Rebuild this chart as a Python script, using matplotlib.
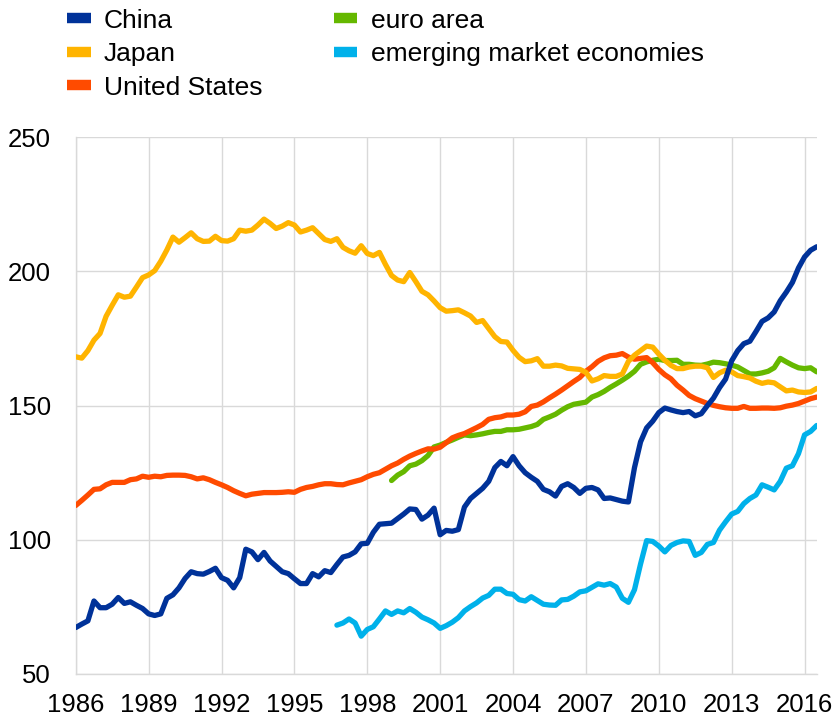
import numpy as np
import matplotlib
matplotlib.use('Agg')
import matplotlib.pyplot as plt
from matplotlib.lines import Line2D

plt.rcParams['font.family'] = ['Liberation Sans', 'DejaVu Sans']

# ===== quarterly data =====
china_start = 1986.0
china = [
    67.3, 68.6, 69.8, 77.2,    # 1986
    74.7, 74.7, 76.0, 78.5,    # 1987
    76.3, 76.9, 75.6, 74.4,    # 1988
    72.4, 71.8, 72.4, 78.2,    # 1989
    79.5, 82.1, 85.6, 88.1,    # 1990
    87.4, 87.2, 88.2, 89.4,    # 1991
    85.9, 84.9, 82.1, 85.9,    # 1992
    96.5, 95.5, 92.6, 95.3,    # 1993
    92.1, 90.1, 88.1, 87.4,    # 1994
    85.5, 83.7, 83.7, 87.4,    # 1995
    86.2, 88.5, 87.8, 90.8,    # 1996
    93.6, 94.2, 95.5, 98.5,    # 1997
    98.7, 102.8, 105.8, 106.0,  # 1998
    106.2, 107.9, 109.6, 111.5,  # 1999
    111.3, 107.7, 109.2, 111.8,  # 2000
    101.9, 103.5, 103.2, 103.8,  # 2001
    112.2, 115.4, 117.3, 119.2,  # 2002
    121.8, 126.9, 129.2, 127.6,  # 2003
    131.0, 127.6, 125.0, 123.3,  # 2004
    121.8, 118.8, 117.9, 116.3,  # 2005
    119.9, 120.9, 119.5, 117.3,  # 2006
    119.2, 119.5, 118.6, 115.4,  # 2007
    115.6, 115.0, 114.4, 114.1,  # 2008
    126.9, 136.5, 141.7, 144.2,  # 2009
    147.4, 149.1, 148.4, 147.8,  # 2010
    147.4, 147.8, 146.2, 147.0,  # 2011
    150.0, 152.8, 156.7, 159.9,  # 2012
    166.7, 170.5, 173.1, 174.0,  # 2013
    177.6, 181.4, 182.7, 184.9,  # 2014
    189.1, 192.3, 195.9, 201.3,  # 2015
    205.4, 207.9, 209.2,         # 2016
]

japan_start = 1986.0
japan = [
    168.2, 167.7, 170.5, 174.4,  # 1986
    176.9, 183.3, 187.4, 191.3,  # 1987
    190.4, 190.8, 194.2, 197.7,  # 1988
    198.7, 200.3, 203.8, 208.0,  # 1989
    212.8, 210.9, 212.6, 214.4,  # 1990
    212.2, 211.2, 211.3, 213.1,  # 1991
    211.5, 211.3, 212.2, 215.4,  # 1992
    215.0, 215.4, 217.3, 219.5,  # 1993
    217.9, 216.0, 216.9, 218.2,  # 1994
    217.3, 214.7, 215.4, 216.3,  # 1995
    214.1, 211.9, 211.2, 212.2,  # 1996
    209.0, 207.7, 206.8, 209.6,  # 1997
    206.7, 205.9, 207.1, 202.6,  # 1998
    198.5, 196.8, 196.2, 199.6,  # 1999
    196.2, 192.6, 191.3, 189.0,  # 2000
    186.5, 185.2, 185.4, 185.7,  # 2001
    184.6, 183.4, 181.0, 181.7,  # 2002
    178.7, 175.7, 173.9, 173.7,  # 2003
    170.6, 168.0, 166.4, 166.7,  # 2004
    167.5, 164.7, 164.7, 165.1,  # 2005
    164.8, 163.9, 163.7, 163.5,  # 2006
    162.4, 159.2, 160.0, 161.2,  # 2007
    160.9, 160.9, 161.8, 166.5,  # 2008
    168.8, 170.5, 172.2, 171.8,  # 2009
    169.2, 166.9, 165.0, 163.8,  # 2010
    163.8, 164.4, 164.7, 164.7,  # 2011
    164.1, 160.5, 162.2, 163.2,  # 2012
    162.6, 161.2, 160.8, 160.3,  # 2013
    159.1, 158.3, 158.8, 158.5,  # 2014
    157.0, 155.5, 155.8, 155.1,  # 2015
    154.9, 155.1, 156.4,         # 2016
]

us_start = 1986.0
us = [
    112.8, 114.7, 116.7, 118.8,  # 1986
    119.0, 120.5, 121.4, 121.4,  # 1987
    121.4, 122.4, 122.7, 123.7,  # 1988
    123.3, 123.7, 123.5, 124.0,  # 1989
    124.1, 124.1, 124.0, 123.5,  # 1990
    122.7, 123.1, 122.4, 121.4,  # 1991
    120.5, 119.5, 118.3, 117.3,  # 1992
    116.4, 117.0, 117.3, 117.6,  # 1993
    117.6, 117.6, 117.7, 117.9,  # 1994
    117.7, 118.8, 119.5, 119.9,  # 1995
    120.5, 120.9, 120.9, 120.6,  # 1996
    120.5, 121.2, 121.8, 122.4,  # 1997
    123.5, 124.4, 125.0, 126.3,  # 1998
    127.6, 128.6, 130.0, 131.2,  # 1999
    132.2, 133.1, 133.9, 133.8,  # 2000
    134.5, 136.2, 138.0, 138.9,  # 2001
    139.6, 140.7, 141.8, 143.0,  # 2002
    144.9, 145.5, 145.8, 146.5,  # 2003
    146.5, 146.8, 147.7, 149.7,  # 2004
    150.2, 151.4, 152.9, 154.3,  # 2005
    155.8, 157.4, 159.0, 160.5,  # 2006
    162.8, 164.5, 166.5, 167.8,  # 2007
    168.6, 168.8, 169.4, 168.1,  # 2008
    167.3, 167.6, 167.9, 166.0,  # 2009
    163.5, 161.5, 160.0, 157.6,  # 2010
    155.8, 153.8, 152.6, 151.7,  # 2011
    150.8, 150.1, 149.6, 149.2,  # 2012
    149.0, 149.0, 149.7, 149.0,  # 2013
    149.0, 149.1, 149.1, 149.0,  # 2014
    149.2, 149.8, 150.2, 150.8,  # 2015
    151.7, 152.6, 153.2,         # 2016
]

euro_start = 1999.0
euro = [
    122.1, 124.1, 125.4, 127.6,  # 1999
    128.2, 129.5, 131.4, 134.6,  # 2000
    135.3, 136.3, 137.2, 138.2,  # 2001
    139.1, 138.8, 139.1, 139.5,  # 2002
    140.0, 140.4, 140.4, 141.0,  # 2003
    141.0, 141.2, 141.7, 142.2,  # 2004
    143.0, 144.9, 145.8, 146.8,  # 2005
    148.3, 149.6, 150.5, 150.9,  # 2006
    151.3, 153.2, 154.1, 155.3,  # 2007
    156.8, 158.1, 159.5, 161.0,  # 2008
    162.8, 165.4, 166.3, 166.9,  # 2009
    167.3, 166.8, 166.8, 166.9,  # 2010
    165.4, 165.4, 165.1, 165.0,  # 2011
    165.5, 166.2, 166.0, 165.6,  # 2012
    165.1, 164.4, 163.1, 161.8,  # 2013
    161.8, 162.2, 162.8, 164.1,  # 2014
    167.6, 166.3, 165.1, 164.1,  # 2015
    163.8, 164.1, 162.6,         # 2016
]

eme_start = 1996.75
eme = [
    68.2,                        # 1996 Q4
    69.0, 70.5, 69.0, 64.1,      # 1997
    66.6, 67.6, 70.5, 73.5,      # 1998
    72.2, 73.5, 72.8, 74.4,      # 1999
    73.0, 71.2, 70.2, 69.0,      # 2000
    67.0, 68.0, 69.3, 71.0,      # 2001
    73.5, 75.1, 76.5, 78.3,      # 2002
    79.3, 81.6, 81.6, 80.0,      # 2003
    79.7, 77.7, 77.2, 78.8,      # 2004
    77.4, 76.0, 75.7, 75.6,      # 2005
    77.6, 77.8, 79.0, 80.6,      # 2006
    81.0, 82.3, 83.6, 83.1,      # 2007
    83.7, 82.4, 78.2, 76.7,      # 2008
    81.4, 91.0, 99.7, 99.4,      # 2009
    97.7, 95.5, 97.9, 99.0,      # 2010
    99.6, 99.4, 94.2, 95.3,      # 2011
    98.3, 99.0, 103.6, 106.7,    # 2012
    109.6, 110.6, 113.5, 115.4,  # 2013
    116.7, 120.5, 119.6, 118.6,  # 2014
    121.8, 126.7, 127.6, 132.1,  # 2015
    139.1, 140.4, 142.6,         # 2016
]

series = [
    ('China', china_start, china, '#003299'),
    ('Japan', japan_start, japan, '#FFB400'),
    ('United States', us_start, us, '#FF4B00'),
    ('euro area', euro_start, euro, '#65B800'),
    ('emerging market economies', eme_start, eme, '#00B1EA'),
]

years = list(range(1986, 2017, 3))
yticks = [50, 100, 150, 200, 250]

# ===== plot =====
fig = plt.figure(figsize=(8.36, 7.21), dpi=100)
ax = fig.add_axes([0.0906, 0.0652, 0.8863, 0.7444])

# draw order: emerging, euro, US, Japan, China
order = [4, 3, 2, 1, 0]
for i in order:
    name, start, vals, col = series[i]
    t = start + 0.25 * np.arange(len(vals))
    ax.plot(t, vals, color=col, linewidth=3.8, solid_joinstyle='round',
            solid_capstyle='round', zorder=3 + (4 - i) * 0.1)

ax.set_xlim(1986, 2016.5)
ax.set_ylim(50, 250)
ax.set_xticks(years)
ax.set_yticks(yticks)
ax.grid(True, color='#d9d9d9', linewidth=1.0, zorder=0)
ax.set_axisbelow(True)
for s in ['top', 'right']:
    ax.spines[s].set_visible(False)
for s in ['left', 'bottom']:
    ax.spines[s].set_color('#d9d9d9')
    ax.spines[s].set_linewidth(1.0)
ax.tick_params(axis='x', length=0, labelsize=18.5, pad=14)
ax.tick_params(axis='y', length=0, labelsize=18.5, pad=18)

handles = [Line2D([0], [0], color=c, linewidth=7.5, solid_capstyle='butt')
           for _, _, _, c in series]
labels = [n for n, _, _, _ in series]
fig.legend(handles, labels, loc='upper left', bbox_to_anchor=(0.08, 0.988),
           ncol=2, frameon=False, fontsize=19, handlelength=0.9,
           handletextpad=0.5, columnspacing=2.7, labelspacing=0.36,
           borderpad=0, borderaxespad=0)

plt.savefig('out.png', dpi=100)
